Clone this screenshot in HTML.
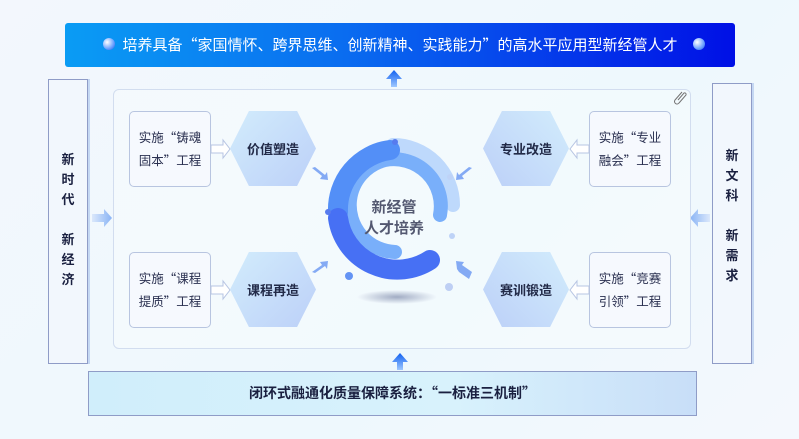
<!DOCTYPE html>
<html><head><meta charset="utf-8"><style>
body{margin:0;width:799px;height:439px;overflow:hidden;background:linear-gradient(135deg,#f3f7fd,#eef8fd 60%,#f4f8fd);font-family:"Liberation Sans","Noto Sans CJK SC",sans-serif;position:relative}
.a{position:absolute}
.q{font-family:"Noto Sans CJK SC",sans-serif}
.top{left:65px;top:23px;width:670px;height:44px;border-radius:3px;background:linear-gradient(90deg,#0a9cf4,#0a6ff0 40%,#0010e6);color:#fff;font-size:15px;line-height:44px;text-align:center}
.side{width:38px;border:1px solid #8f9cc7;background:#f2f7fd;color:#1a2040;font-weight:bold;font-size:13px;text-align:center;box-shadow:2px 0 0 #c5d8f3}
.inner{left:113px;top:89px;width:576px;height:258px;border:1px solid #d2ddef;border-radius:6px;background:rgba(255,255,255,.25)}
.box{width:80px;height:74px;border:1px solid #b8c5e0;border-radius:5px;background:#f6f9fe;font-size:12.5px;color:#2a3050;display:flex;align-items:center;justify-content:center;text-align:center;line-height:21px}
.hex{width:86px;height:75px;clip-path:polygon(22% 0,78% 0,100% 50%,78% 100%,22% 100%,0 50%);font-size:13px;color:#222a48;font-weight:bold;display:flex;align-items:center;justify-content:center}
.bot{left:88px;top:371px;width:607px;height:43px;border:1px solid #8f9cc7;background:linear-gradient(90deg,#d0eefb,#d8f2fc 60%,#c8def8);font-size:14px;font-weight:bold;color:#1a2040;text-align:center;line-height:43px}
</style></head><body>
<div class="a top"><span style="position:absolute;left:38px;top:15px;width:12px;height:12px;border-radius:50%;background:radial-gradient(circle at 35% 35%,#fff,#6aa0ff 60%,#2050e0)"></span>培养具备<span class="q">“</span>家国情怀、跨界思维、创新精神、实践能力<span class="q">”</span>的高水平应用型新经管人才<span style="position:absolute;right:30px;top:15px;width:12px;height:12px;border-radius:50%;background:radial-gradient(circle at 35% 35%,#fff,#6aa0ff 60%,#2050e0)"></span></div>
<svg class="a" style="left:0;top:0" width="799" height="439">
<defs><linearGradient id="ua" x1="0" y1="1" x2="0" y2="0"><stop offset="0" stop-color="#9ec8ff"/><stop offset="1" stop-color="#1060f0"/></linearGradient>
<linearGradient id="ra" x1="0" x2="1"><stop offset="0" stop-color="#dbe8fb"/><stop offset="1" stop-color="#8ab4f5"/></linearGradient>
<linearGradient id="la" x1="1" x2="0"><stop offset="0" stop-color="#dbe8fb"/><stop offset="1" stop-color="#8ab4f5"/></linearGradient>
<radialGradient id="sh"><stop offset="0" stop-color="#8290b0"/><stop offset="1" stop-color="#8290b0" stop-opacity="0"/></radialGradient></defs>
<path d="M394 70 l-8 9 h5 v8 h6 v-8 h5z" fill="url(#ua)"/>
<path d="M400 353 l-8 9 h5 v8 h6 v-8 h5z" fill="url(#ua)"/>
<path d="M92 214 h12 v-5 l8 9 -8 9 v-5 h-12z" fill="url(#ra)"/>
<path d="M710 214 h-12 v-5 l-8 9 8 9 v-5 h12z" fill="url(#la)"/>
<g fill="#fff" stroke="#9fb2da"><path d="M211 145 h12 v-5 l7 9 -7 9 v-5 h-12z"/><path d="M211 286 h12 v-5 l7 9 -7 9 v-5 h-12z"/><path d="M589 145 h-12 v-5 l-7 9 7 9 v-5 h12z"/><path d="M589 286 h-12 v-5 l-7 9 7 9 v-5 h12z"/></g>
<g fill="#5b8ef0"><path d="M312 168 l10 8 -2 3 8 1 -1 -8 -2 3 -10 -8z"/><path d="M312 272 l10 -7 -2 -3 8 -1 -1 8 -2 -3 -10 7z"/><path d="M472 168 l-10 8 2 3 -8 1 1 -8 2 3 10 -8z"/><path d="M472 272 l-10 -7 2 -3 -8 -1 1 8 2 3 10 7z"/></g>
<ellipse cx="397" cy="297" rx="40" ry="7" fill="url(#sh)"/>
<g fill="none" stroke-linecap="round">
<path d="M453 205 A60 60 0 0 0 393 145" stroke="#a8ccfb" stroke-width="14"/>
<path d="M440 215 A47 47 0 0 0 385 160 A47 47 0 0 0 350 200 A47 47 0 0 0 395 252" stroke="#4c95f8" stroke-width="14"/>
<path d="M390 150 A60 60 0 0 0 338 212" stroke="#1a6af5" stroke-width="20"/>
<path d="M338 218 A60 60 0 0 0 430 260" stroke="#0a40f0" stroke-width="20"/>
</g>
<g><circle cx="395" cy="142" r="3" fill="#1f4fe8"/><circle cx="450" cy="177" r="3" fill="#a8c4f5"/><circle cx="328" cy="212" r="3" fill="#1f4fe8"/><circle cx="452" cy="236" r="3" fill="#a8c4f5"/><circle cx="349" cy="276" r="4" fill="#2f6ff0"/><circle cx="449" cy="287" r="4" fill="#a8bff0"/></g>
<text x="394" y="212" font-size="15" font-weight="bold" fill="#1a2040" text-anchor="middle" font-family="Liberation Sans,Noto Sans CJK SC,sans-serif">新经管</text>
<text x="394" y="233" font-size="15" font-weight="bold" fill="#1a2040" text-anchor="middle" font-family="Liberation Sans,Noto Sans CJK SC,sans-serif">人才培养</text>
<path d="M682 92 l-7 8 a2.5 2.5 0 0 0 4 3 l7 -8 a1.5 1.5 0 0 0 -2 -2 l-6 7" fill="none" stroke="#444" stroke-width="1"/>
</svg>
<div class="a side" style="left:48px;top:79px;height:283px"><div style="padding-top:70px;line-height:20px">新<br>时<br>代<br><br>新<br>经<br>济</div></div>
<div class="a side" style="left:712px;top:83px;height:279px"><div style="padding-top:62px;line-height:20px">新<br>文<br>科<br><br>新<br>需<br>求</div></div>
<div class="a inner"></div>
<div class="a box" style="left:129px;top:111px"><div>实施<span class="q">“</span>铸魂<br>固本<span class="q">”</span>工程</div></div>
<div class="a box" style="left:129px;top:252px"><div>实施<span class="q">“</span>课程<br>提质<span class="q">”</span>工程</div></div>
<div class="a box" style="left:589px;top:111px"><div>实施<span class="q">“</span>专业<br>融会<span class="q">”</span>工程</div></div>
<div class="a box" style="left:589px;top:252px"><div>实施<span class="q">“</span>竞赛<br>引领<span class="q">”</span>工程</div></div>
<div class="a hex" style="left:230px;top:111px;background:linear-gradient(135deg,#d2ecfc,#bcd0f8)">价值塑造</div>
<div class="a hex" style="left:230px;top:252px;background:linear-gradient(135deg,#d2ecfc,#bcd0f8)">课程再造</div>
<div class="a hex" style="left:483px;top:111px;background:linear-gradient(225deg,#d2ecfc,#bcd0f8)">专业改造</div>
<div class="a hex" style="left:483px;top:252px;background:linear-gradient(225deg,#d2ecfc,#bcd0f8)">赛训锻造</div>
<div class="a bot">闭环式融通化质量保障系统：<span class="q">“</span>一标准三机制<span class="q">”</span></div>
</body></html>
